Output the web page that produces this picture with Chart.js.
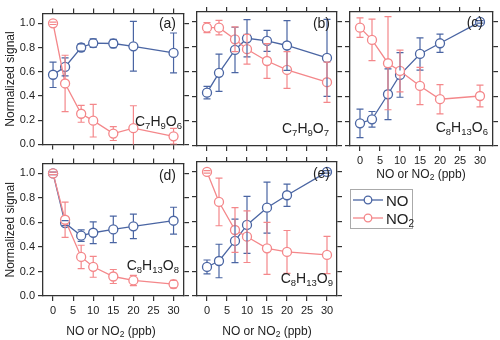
<!DOCTYPE html>
<html>
<head>
<meta charset="utf-8">
<script src="https://cdn.jsdelivr.net/npm/chart.js@4.4.0/dist/chart.umd.min.js"></script>
<style>
body { margin: 0; background: #fff; font-family: "Liberation Sans", Arial, sans-serif; }
#wrap { position: relative; width: 500px; height: 340px; overflow: hidden; }
canvas { position: absolute; }
.lbl { position: absolute; white-space: nowrap; color: #222; line-height: 1; }
.tag { font-size: 14px; transform: translate(-100%, -50%); }
.mol { font-size: 14px; transform: translate(-100%, -50%); }
.mol sub { font-size: 9.5px; vertical-align: -3px; }
.xt { font-size: 12px; transform: translate(-50%, -50%); }
.xt sub { font-size: 8.5px; vertical-align: -2px; }
#legend { position: absolute; left: 350px; top: 189px; width: 61px; height: 38px; border: 1px solid #aaa; background: #fff; }
#legend div { position: absolute; left: 35px; font-size: 15px; color: #222; line-height: 1; }
#legend sub { font-size: 10px; vertical-align: -3px; }
</style>
</head>
<body>
<div id="wrap">
  <div class="lbl tag" style="left:176px;top:23px">(a)</div>
  <div class="lbl tag" style="left:330px;top:23px">(b)</div>
  <div class="lbl tag" style="left:483px;top:22px">(c)</div>
  <div class="lbl tag" style="left:176px;top:175px">(d)</div>
  <div class="lbl tag" style="left:330px;top:173px">(e)</div>

  <div class="lbl mol" style="left:182px;top:122px">C<sub>7</sub>H<sub>9</sub>O<sub>6</sub></div>
  <div class="lbl mol" style="left:329px;top:129px">C<sub>7</sub>H<sub>9</sub>O<sub>7</sub></div>
  <div class="lbl mol" style="left:488px;top:128px">C<sub>8</sub>H<sub>13</sub>O<sub>6</sub></div>
  <div class="lbl mol" style="left:179px;top:266px">C<sub>8</sub>H<sub>13</sub>O<sub>8</sub></div>
  <div class="lbl mol" style="left:333px;top:279px">C<sub>8</sub>H<sub>13</sub>O<sub>9</sub></div>

  <div class="lbl xt" style="left:421px;top:175px">NO or NO<sub>2</sub> (ppb)</div>
  <div class="lbl xt" style="left:111px;top:332px">NO or NO<sub>2</sub> (ppb)</div>
  <div class="lbl xt" style="left:267px;top:332px">NO or NO<sub>2</sub> (ppb)</div>

  <div id="legend">
    <svg width="36" height="38" style="position:absolute;left:0;top:0">
      <line x1="2" y1="10" x2="32" y2="10" stroke="#4a65a3" stroke-width="1.3"/>
      <circle cx="17" cy="10" r="3.8" fill="#fff" stroke="#4a65a3" stroke-width="1.3"/>
      <line x1="2" y1="28" x2="32" y2="28" stroke="#f4878a" stroke-width="1.3"/>
      <circle cx="17" cy="28" r="3.8" fill="#fff" stroke="#f4878a" stroke-width="1.3"/>
    </svg>
    <div style="top:3px">NO</div>
    <div style="top:21px">NO<sub>2</sub></div>
  </div>
</div>

<script>
// x positions (ppb) and tick values
var conc = [0, 3, 7, 10, 15, 20, 30];
var xTicks = [0, 5, 10, 15, 20, 25, 30];
var yTicks = [0, 0.2, 0.4, 0.6, 0.8, 1.0];

// (a) C7H9O6
var noA = [0.575, 0.64, 0.80, 0.836, 0.833, 0.81, 0.755];
var noAErr = [0.105, 0.075, 0.03, 0.035, 0.035, 0.205, 0.165];
var no2A = [1.0, 0.503, 0.253, 0.196, 0.089, 0.134, 0.067];
var no2AErr = [0.01, 0.233, 0.07, 0.135, 0.057, 0.185, 0.065];

// (b) C7H9O7
var noB = [0.43, 0.59, 0.774, 0.868, 0.847, 0.81, 0.71];
var noBErr = [0.05, 0.15, 0.183, 0.15, 0.085, 0.2, 0.31];
var no2B = [0.954, 0.954, 0.86, 0.78, 0.685, 0.613, 0.514];
var no2BErr = [0.04, 0.058, 0.1, 0.12, 0.14, 0.148, 0.162];

// (c) C8H13O6
var noC = [0.183, 0.215, 0.417, 0.573, 0.742, 0.828, 1.0];
var noCErr = [0.115, 0.063, 0.204, 0.18, 0.13, 0.073, 0.01];
var no2C = [0.954, 0.855, 0.667, 0.605, 0.484, 0.377, 0.403];
var no2CErr = [0.078, 0.167, 0.375, 0.168, 0.15, 0.118, 0.087];

// (d) C8H13O8
var noD = [1.0, 0.595, 0.492, 0.516, 0.543, 0.568, 0.614];
var noDErr = [0.01, 0.02, 0.047, 0.088, 0.108, 0.1, 0.11];
var no2D = [1.0, 0.622, 0.319, 0.238, 0.159, 0.127, 0.097];
var no2DErr = [0.01, 0.143, 0.095, 0.085, 0.057, 0.042, 0.03];

// (e) C8H13O9
var noE = [0.234, 0.282, 0.444, 0.573, 0.712, 0.812, 1.0];
var noEErr = [0.056, 0.135, 0.175, 0.23, 0.205, 0.09, 0.01];
var no2E = [1.0, 0.758, 0.532, 0.478, 0.384, 0.355, 0.331];
var no2EErr = [0.01, 0.192, 0.18, 0.208, 0.21, 0.173, 0.15];

var blue = '#4a65a3';
var red = '#f4878a';
var axisColor = '#333';
var R = 4.5;

// error bars: line stops at the marker edge, caps always drawn
var errorBars = {
    id: 'errorBars',
    afterDatasetsDraw: function (chart) {
        var ctx = chart.ctx, xs = chart.scales.x, ys = chart.scales.y, a = chart.chartArea;
        ctx.save();
        ctx.beginPath();
        ctx.rect(a.left, a.top, a.right - a.left, a.bottom - a.top);
        ctx.clip();
        chart.data.datasets.forEach(function (ds) {
            ctx.strokeStyle = ds.borderColor;
            ctx.lineWidth = 1.2;
            ds.data.forEach(function (pt, i) {
                var e = ds.errors[i];
                var px = xs.getPixelForValue(pt.x);
                var py = ys.getPixelForValue(pt.y);
                var top = ys.getPixelForValue(pt.y + e);
                var bot = ys.getPixelForValue(pt.y - e);
                ctx.beginPath();
                if (top < py - R) { ctx.moveTo(px, top); ctx.lineTo(px, py - R); }
                if (bot > py + R) { ctx.moveTo(px, py + R); ctx.lineTo(px, bot); }
                ctx.moveTo(px - 3.5, top); ctx.lineTo(px + 3.5, top);
                ctx.moveTo(px - 3.5, bot); ctx.lineTo(px + 3.5, bot);
                ctx.stroke();
            });
        });
        ctx.restore();
    }
};

function pts(vals) {
    return conc.map(function (c, i) { return { x: c, y: vals[i] }; });
}

function series(label, vals, errs, color, order) {
    return {
        label: label,
        data: pts(vals),
        errors: errs,
        borderColor: color,
        backgroundColor: color,
        borderWidth: 1.3,
        pointRadius: R,
        pointBorderWidth: 1.3,
        pointBackgroundColor: '#fff',
        pointBorderColor: color,
        order: order,
        clip: false
    };
}

function axis(pos, min, max, tickVals, showLabels, size, title) {
    var horiz = pos === 'top' || pos === 'bottom';
    return {
        type: 'linear',
        position: pos,
        min: min,
        max: max,
        afterBuildTicks: function (s) {
            s.ticks = tickVals.map(function (v) { return { value: v }; });
        },
        afterFit: function (s) {
            if (horiz) s.height = size; else s.width = size;
        },
        grid: { drawOnChartArea: false, drawTicks: true, tickLength: 5, color: axisColor, lineWidth: 1.2 },
        border: { display: true, color: axisColor, width: 1.3 },
        ticks: {
            display: showLabels,
            padding: 3,
            color: '#222',
            font: { size: 11, family: '"Liberation Sans", Arial, sans-serif' },
            callback: function (v) { return horiz ? v : v.toFixed(1); }
        },
        title: title ? {
            display: true,
            text: title,
            color: '#222',
            padding: { top: 3, bottom: 0 },
            font: { size: 12, family: '"Liberation Sans", Arial, sans-serif' }
        } : { display: false }
    };
}

function makePanel(p) {
    var mL = p.yLabels ? p.L : 8, mR = 8, mT = 8, mB = p.xLabels ? 24 : 8;
    var w = p.Rt - p.L + mL + mR, h = p.B - p.T + mT + mB;
    var cv = document.createElement('canvas');
    cv.width = w; cv.height = h;
    cv.style.width = w + 'px'; cv.style.height = h + 'px';
    cv.style.left = (p.L - mL) + 'px';
    cv.style.top = (p.T - mT) + 'px';
    document.getElementById('wrap').insertBefore(cv, document.getElementById('wrap').firstChild);

    new Chart(cv, {
        type: 'line',
        data: {
            datasets: [
                series('NO', p.no, p.noErr, blue, 2),
                series('NO2', p.no2, p.no2Err, red, 1)
            ]
        },
        options: {
            responsive: false,
            animation: false,
            devicePixelRatio: 1,
            layout: { padding: 0 },
            plugins: { legend: { display: false }, tooltip: { enabled: false } },
            scales: {
                x: axis('bottom', p.xMin, p.xMax, xTicks, p.xLabels, mB),
                x2: axis('top', p.xMin, p.xMax, xTicks, false, mT),
                y: axis('left', 0, 1.08, yTicks, p.yLabels, mL, p.yLabels ? 'Normalized signal' : null),
                y2: axis('right', 0, 1.08, yTicks, false, mR)
            }
        },
        plugins: [errorBars]
    });
}

var panels = [
    { L: 43, Rt: 184, T: 12, B: 146, xMin: -2.5, xMax: 32.6, yLabels: true, xLabels: false,
      no: noA, noErr: noAErr, no2: no2A, no2Err: no2AErr },
    { L: 197, Rt: 337, T: 12, B: 146, xMin: -2.5, xMax: 32.5, yLabels: false, xLabels: false,
      no: noB, noErr: noBErr, no2: no2B, no2Err: no2BErr },
    { L: 350, Rt: 493, T: 12, B: 146, xMin: -2.5, xMax: 33.25, yLabels: false, xLabels: true,
      no: noC, noErr: noCErr, no2: no2C, no2Err: no2CErr },
    { L: 43, Rt: 184, T: 162, B: 296, xMin: -2.5, xMax: 32.6, yLabels: true, xLabels: true,
      no: noD, noErr: noDErr, no2: no2D, no2Err: no2DErr },
    { L: 197, Rt: 337, T: 162, B: 296, xMin: -2.5, xMax: 32.5, yLabels: false, xLabels: true,
      no: noE, noErr: noEErr, no2: no2E, no2Err: no2EErr }
];

panels.forEach(makePanel);
</script>
</body>
</html>
